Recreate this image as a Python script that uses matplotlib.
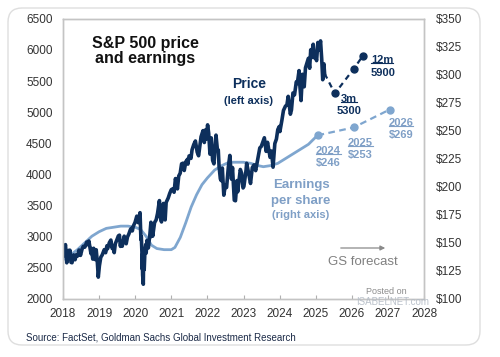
import pandas as pd
import matplotlib
matplotlib.use("Agg")
import matplotlib.pyplot as plt
from matplotlib.patches import FancyBboxPatch
from matplotlib.lines import Line2D

plt.rcParams['font.family'] = ['Liberation Sans', 'DejaVu Sans']

# S&P 500 index level (left axis)
price_dates = [
    "2018-01-02", "2018-01-12", "2018-01-26", "2018-02-08", "2018-02-16", "2018-02-26",
    "2018-03-08", "2018-03-12", "2018-03-23", "2018-04-02", "2018-04-18", "2018-05-03",
    "2018-05-15", "2018-05-29", "2018-06-12", "2018-06-27", "2018-07-13", "2018-07-25",
    "2018-08-10", "2018-08-29", "2018-09-07", "2018-09-20", "2018-10-11", "2018-10-17",
    "2018-10-29", "2018-11-07", "2018-11-23", "2018-12-03", "2018-12-14", "2018-12-24",
    "2019-01-04", "2019-01-18", "2019-02-01", "2019-02-22", "2019-03-08", "2019-03-21",
    "2019-03-27", "2019-04-15", "2019-04-30", "2019-05-13", "2019-05-20", "2019-06-03",
    "2019-06-14", "2019-06-28", "2019-07-15", "2019-07-26", "2019-08-05", "2019-08-09",
    "2019-08-23", "2019-09-12", "2019-10-02", "2019-10-15", "2019-10-28", "2019-11-15",
    "2019-11-29", "2019-12-03", "2019-12-13", "2019-12-31", "2020-01-17", "2020-01-31",
    "2020-02-19", "2020-02-28", "2020-03-03", "2020-03-09", "2020-03-12", "2020-03-13",
    "2020-03-16", "2020-03-23", "2020-03-26", "2020-04-01", "2020-04-09", "2020-04-17",
    "2020-04-21", "2020-04-29", "2020-05-13", "2020-05-29", "2020-06-08", "2020-06-11",
    "2020-06-23", "2020-06-26", "2020-07-15", "2020-07-31", "2020-08-14", "2020-09-02",
    "2020-09-08", "2020-09-23", "2020-10-12", "2020-10-30", "2020-11-09", "2020-11-30",
    "2020-12-15", "2020-12-31", "2021-01-15", "2021-01-29", "2021-02-12", "2021-03-04",
    "2021-03-17", "2021-04-01", "2021-04-15", "2021-04-30", "2021-05-12", "2021-05-28",
    "2021-06-15", "2021-06-18", "2021-06-30", "2021-07-19", "2021-07-30", "2021-08-16",
    "2021-09-02", "2021-09-20", "2021-10-04", "2021-10-29", "2021-11-18", "2021-12-01",
    "2021-12-10", "2021-12-20", "2022-01-03", "2022-01-14", "2022-01-27", "2022-02-09",
    "2022-02-23", "2022-03-08", "2022-03-29", "2022-04-12", "2022-04-21", "2022-04-29",
    "2022-05-12", "2022-05-20", "2022-06-01", "2022-06-16", "2022-07-01", "2022-07-14",
    "2022-08-01", "2022-08-16", "2022-09-02", "2022-09-12", "2022-09-30", "2022-10-12",
    "2022-10-28", "2022-11-03", "2022-11-30", "2022-12-13", "2022-12-28", "2023-01-05",
    "2023-01-27", "2023-02-02", "2023-02-23", "2023-03-13", "2023-03-31", "2023-04-18",
    "2023-05-04", "2023-05-19", "2023-06-15", "2023-06-30", "2023-07-31", "2023-08-18",
    "2023-09-01", "2023-09-27", "2023-10-11", "2023-10-27", "2023-11-14", "2023-11-30",
    "2023-12-14", "2023-12-29", "2024-01-04", "2024-01-24", "2024-02-09", "2024-02-29",
    "2024-03-15", "2024-03-28", "2024-04-19", "2024-04-30", "2024-05-15", "2024-05-31",
    "2024-06-18", "2024-06-28", "2024-07-16", "2024-07-24", "2024-08-05", "2024-08-19",
    "2024-09-06", "2024-09-19", "2024-10-18", "2024-10-31", "2024-11-11", "2024-11-15",
    "2024-12-06", "2024-12-18", "2024-12-31", "2025-01-10", "2025-01-23", "2025-02-03",
    "2025-02-19", "2025-03-03", "2025-03-13", "2025-03-25", "2025-04-01",
]
price_values = [
    2695, 2786, 2873, 2581, 2732, 2780,
    2738, 2783, 2588, 2582, 2708, 2630,
    2711, 2690, 2786, 2700, 2801, 2846,
    2833, 2914, 2872, 2931, 2728, 2810,
    2641, 2814, 2633, 2790, 2600, 2351,
    2532, 2670, 2706, 2792, 2743, 2854,
    2805, 2905, 2946, 2812, 2840, 2744,
    2887, 2942, 3014, 3025, 2845, 2919,
    2847, 3009, 2887, 2996, 3039, 3120,
    3141, 3093, 3169, 3231, 3330, 3226,
    3386, 2954, 3003, 2747, 2481, 2711,
    2386, 2237, 2630, 2470, 2790, 2875,
    2737, 2940, 2820, 3044, 3232, 3002,
    3131, 3009, 3227, 3271, 3373, 3580,
    3332, 3237, 3534, 3270, 3550, 3622,
    3694, 3756, 3768, 3714, 3934, 3768,
    3974, 4020, 4170, 4181, 4063, 4204,
    4246, 4166, 4297, 4258, 4395, 4479,
    4537, 4358, 4300, 4605, 4704, 4513,
    4712, 4568, 4796, 4662, 4326, 4587,
    4225, 4170, 4631, 4397, 4393, 4132,
    3930, 3901, 4101, 3667, 3825, 3790,
    4119, 4305, 3924, 4110, 3586, 3577,
    3901, 3720, 4080, 4019, 3783, 3808,
    4070, 4179, 4012, 3855, 4109, 4154,
    4061, 4192, 4426, 4450, 4589, 4370,
    4516, 4274, 4376, 4117, 4496, 4568,
    4720, 4770, 4688, 4868, 5027, 5096,
    5117, 5254, 4967, 5036, 5308, 5278,
    5487, 5460, 5667, 5427, 5186, 5608,
    5408, 5713, 5864, 5705, 6001, 5870,
    6090, 5872, 5882, 5827, 6119, 5994,
    6144, 5849, 5521, 5776, 5620,
]

# trailing earnings per share (right axis)
eps_years = [2018.0, 2018.2, 2018.4, 2018.6, 2018.8, 2019.0, 2019.2, 2019.4, 2019.6, 2019.8,
             2020.0, 2020.15, 2020.3, 2020.45, 2020.6, 2020.8, 2021.0, 2021.1, 2021.25, 2021.4,
             2021.55, 2021.7, 2021.85, 2022.0, 2022.2, 2022.4, 2022.6, 2022.8, 2023.0, 2023.2,
             2023.4, 2023.55, 2023.75, 2023.95, 2024.15, 2024.4, 2024.6, 2024.8, 2025.05]
eps_values = [135, 139, 144, 150, 156, 160, 163, 164, 165, 165,
              164, 162, 156, 148, 145, 144, 144, 146, 155, 168,
              182, 193, 202, 208, 215, 219, 222, 222, 222, 221,
              219, 218, 219, 221, 225, 230, 234, 238, 246]

# GS forecasts
price_fc_years = [2025.53, 2026.06, 2026.30]
price_fc_values = [5300, 5700, 5900]
eps_fc_years = [2026.05, 2027.05]
eps_fc_values = [253, 269]
eps_label_years = ["2024", "2025", "2026"]

navy = "#0d2f5c"
light = "#7fa6cf"
light_txt = "#7f9fc6"


def to_year(dates):
    t = pd.to_datetime(pd.Series(dates))
    return (t.dt.year + (t.dt.dayofyear - 1) / 365.25).values


price_x = to_year(price_dates)

fig = plt.figure(figsize=(5, 3.57), dpi=100)
fig.add_artist(FancyBboxPatch((0.08, 0.12), 4.72, 3.37,
                              boxstyle="round,pad=0,rounding_size=0.14",
                              transform=fig.dpi_scale_trans,
                              facecolor="white", edgecolor="#dedede", lw=1.0, zorder=0))

ax = fig.add_axes([0.126, 0.1625, 0.722, 0.785])
ax2 = ax.twinx()
ax.set_zorder(ax2.get_zorder() + 1)
ax.patch.set_visible(False)

# earnings
ax2.plot(eps_years, eps_values, color=light, lw=2.0, solid_capstyle="round")
ax2.plot([eps_years[-1]] + eps_fc_years, [eps_values[-1]] + eps_fc_values,
         color=light, lw=1.6, ls=(0, (3, 2)))
ax2.plot([eps_years[-1]] + eps_fc_years, [eps_values[-1]] + eps_fc_values,
         ls="none", marker="o", ms=5, color=light)

# price
ax.plot(price_x, price_values, color=navy, lw=2.6, solid_joinstyle="round")
ax.plot([price_x[-1]] + price_fc_years, [price_values[-1]] + price_fc_values,
        color=navy, lw=1.6, ls=(0, (2.5, 2)))
ax.plot(price_fc_years, price_fc_values, ls="none", marker="o", ms=5, color=navy)

ax.set_xlim(2018, 2028)
ax.set_ylim(2000, 6500)
ax2.set_ylim(100, 350)
ax.set_xticks(range(2018, 2029))
ax.set_yticks(range(2000, 6501, 500))
ax2.set_yticks(range(100, 351, 25))
ax2.set_yticklabels(["$%d" % v for v in range(100, 351, 25)])

for a in (ax, ax2):
    for s in a.spines.values():
        s.set_color("#c4c4c4")
        s.set_linewidth(1.0)
ax.tick_params(axis="y", length=0, pad=7.5, labelsize=8.5, labelcolor="#333333")
ax2.tick_params(axis="y", length=0, pad=8.5, labelsize=8.5, labelcolor="#333333")
ax.tick_params(axis="x", direction="in", length=3, color="#b0b0b0", pad=6.5,
               labelsize=8.5, labelcolor="#333333")


def fx(px):
    return px / 500.0


def fy(py):
    return 1 - py / 357.0


# titles and annotations
fig.text(fx(145), fy(51), "S&P 500 price\nand earnings", ha="center", va="center",
         fontsize=11.5, fontweight="bold", color="#111111", linespacing=1.05)
fig.text(fx(249), fy(84), "Price", ha="center", va="center", fontsize=10,
         fontweight="bold", color=navy)
fig.text(fx(249), fy(101), "(left axis)", ha="center", va="center", fontsize=8,
         fontweight="bold", color=navy)
fig.text(fx(301), fy(185), "Earnings", ha="center", va="center", fontsize=9.5,
         fontweight="bold", color=light_txt)
fig.text(fx(301), fy(201), "per share", ha="center", va="center", fontsize=9.5,
         fontweight="bold", color=light_txt)
fig.text(fx(301), fy(215), "(right axis)", ha="center", va="center", fontsize=8,
         fontweight="bold", color=light_txt)
fig.text(fx(363), fy(262), "GS forecast", ha="center", va="center", fontsize=9.5,
         color="#808080")
ax.annotate("", xy=(fx(388), fy(248)), xytext=(fx(338), fy(248)),
            xycoords="figure fraction", textcoords="figure fraction",
            arrowprops=dict(arrowstyle="-|>", color="#8a8a8a", lw=0.9,
                            mutation_scale=7))

underlined = []
underlined.append(fig.text(fx(371), fy(60), "12m", ha="left", va="center", fontsize=8,
                           fontweight="bold", color=navy))
fig.text(fx(371), fy(73), "5900", ha="left", va="center", fontsize=8,
         fontweight="bold", color=navy)
underlined.append(fig.text(fx(349), fy(99), "3m", ha="center", va="center", fontsize=8,
                           fontweight="bold", color=navy))
fig.text(fx(349), fy(111), "5300", ha="center", va="center", fontsize=8,
         fontweight="bold", color=navy)

eps_all = [eps_values[-1]] + eps_fc_values
label_pos = [(328, 151), (360, 143), (401, 123)]
for yr, val, (lx, ly) in zip(eps_label_years, eps_all, label_pos):
    underlined.append(fig.text(fx(lx), fy(ly), yr, ha="center", va="center",
                               fontsize=8, fontweight="bold", color=light_txt))
    fig.text(fx(lx), fy(ly + 12), "$%d" % val, ha="center", va="center",
             fontsize=8, fontweight="bold", color=light_txt)

fig.text(fx(26), fy(338), "Source: FactSet, Goldman Sachs Global Investment Research",
         ha="left", va="center", fontsize=7, color="#1c2b48")
fig.text(fx(386), fy(291), "Posted on", ha="center", va="center", fontsize=6.5,
         color="#8c8c8c")
fig.text(fx(393), fy(302), "ISABELNET.com", ha="center", va="center", fontsize=7,
         color="#b4bcc6", alpha=0.9)

# underline the period labels
fig.canvas.draw()
renderer = fig.canvas.get_renderer()
for t in underlined:
    bb = t.get_window_extent(renderer)
    yline = (bb.y0 + 2.0) / fig.bbox.height
    fig.add_artist(Line2D([bb.x0 / fig.bbox.width, bb.x1 / fig.bbox.width], [yline, yline],
                          color=t.get_color(), lw=0.8, transform=fig.transFigure))

fig.savefig("out.png", dpi=100)
